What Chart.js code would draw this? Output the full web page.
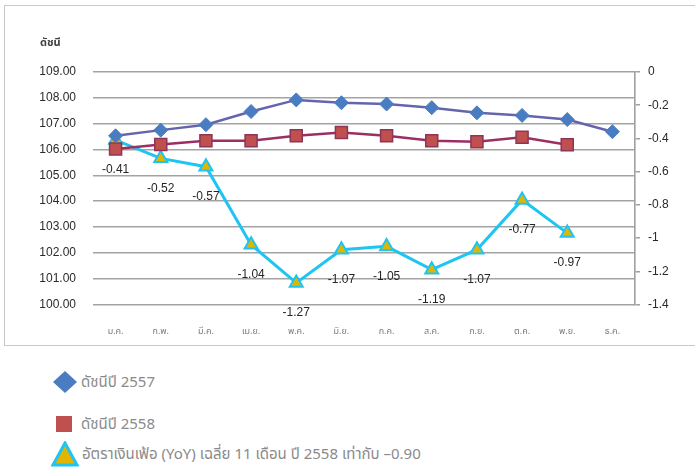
<!DOCTYPE html>
<html>
<head>
<meta charset="utf-8">
<script src="https://cdn.jsdelivr.net/npm/chart.js@4/dist/chart.umd.min.js"></script>
<style>
  html, body { margin: 0; padding: 0; background: #ffffff; }
  body { width: 695px; height: 467px; position: relative; overflow: hidden; }
  #frame { position: absolute; left: 4px; top: 5px; width: 692px; height: 341px; border: 1px solid #c9c9c9; box-sizing: border-box; }
  #wrap { position: absolute; left: 0; top: 0; width: 695px; height: 350px; }
  #legend { position: absolute; left: 51px; top: 366px; font-family: 'Noto Sans Thai', 'Noto Sans', 'DejaVu Sans', sans-serif; font-size: 15px; color: #8a8a8a; }
  #legend .item { position: absolute; left: 0; white-space: nowrap; height: 28px; display: flex; align-items: center; }
  #legend svg { display: block; margin-right: 3px; }
</style>
</head>
<body>
<div id="frame"></div>
<div id="wrap"><canvas id="chart" width="695" height="350"></canvas></div>
<div id="legend"></div>
<script>
// Months (Thai abbreviations)
const months = ['ม.ค.', 'ก.พ.', 'มี.ค.', 'เม.ย.', 'พ.ค.', 'มิ.ย.', 'ก.ค.', 'ส.ค.', 'ก.ย.', 'ต.ค.', 'พ.ย.', 'ธ.ค.'];

// Consumer price index, 2557 and 2558
const index2557 = [106.53, 106.75, 106.96, 107.47, 107.92, 107.81, 107.76, 107.62, 107.42, 107.32, 107.16, 106.69];
const index2558 = [106.02, 106.19, 106.34, 106.34, 106.53, 106.66, 106.53, 106.34, 106.30, 106.47, 106.18];

// Headline inflation (YoY), 2558
const inflation2558 = [-0.41, -0.52, -0.57, -1.04, -1.27, -1.07, -1.05, -1.19, -1.07, -0.77, -0.97];

const axisTitle = 'ดัชนี';
const legendNames = ['ดัชนีปี 2557', 'ดัชนีปี 2558', 'อัตราเงินเฟ้อ (YoY) เฉลี่ย 11 เดือน ปี 2558 เท่ากับ –0.90'];

const numFont = "'Liberation Sans Narrow', 'Liberation Sans', sans-serif";

// Value labels under the inflation points + the small axis caption
const labelPlugin = {
  id: 'valueLabels',
  afterDatasetsDraw(chart) {
    const ctx = chart.ctx;
    ctx.save();
    ctx.font = '12px ' + numFont;
    ctx.fillStyle = '#262626';
    ctx.textAlign = 'center';
    ctx.textBaseline = 'middle';
    chart.getDatasetMeta(2).data.forEach((pt, i) => {
      ctx.fillText(inflation2558[i].toFixed(2), pt.x, pt.y + 30);
    });
    ctx.font = 'bold 11px ' + "'Noto Sans Thai', 'Noto Sans', sans-serif";
    ctx.fillStyle = '#404040';
    ctx.textAlign = 'left';
    ctx.fillText(axisTitle, 40, 44);
    ctx.restore();
  }
};

const chart = new Chart(document.getElementById('chart'), {
  type: 'line',
  data: {
    labels: months,
    datasets: [
      {
        label: legendNames[0],
        data: index2557,
        yAxisID: 'y',
        borderColor: '#6565ad',
        borderWidth: 2.5,
        pointStyle: 'rectRot',
        pointRadius: 7,
        pointBackgroundColor: '#4a7cc2',
        pointBorderColor: '#4a7cc2',
        pointBorderWidth: 1,
        tension: 0
      },
      {
        label: legendNames[1],
        data: index2558,
        yAxisID: 'y',
        borderColor: '#9b2f62',
        borderWidth: 2.5,
        pointStyle: 'rect',
        pointRadius: 8.5,
        pointBackgroundColor: '#c0504d',
        pointBorderColor: '#8e3459',
        pointBorderWidth: 1.5,
        tension: 0
      },
      {
        label: legendNames[2],
        data: inflation2558,
        yAxisID: 'y2',
        borderColor: '#1fc5f2',
        borderWidth: 3,
        pointStyle: 'triangle',
        pointRadius: 7.5,
        pointBackgroundColor: '#e3b400',
        pointBorderColor: '#1fc5f2',
        pointBorderWidth: 2,
        tension: 0
      }
    ]
  },
  options: {
    responsive: false,
    animation: false,
    events: [],
    layout: { padding: { top: 72, left: 0, right: 0, bottom: 0 } },
    plugins: {
      legend: { display: false },
      tooltip: { enabled: false }
    },
    scales: {
      x: {
        type: 'category',
        offset: true,
        grid: { display: false },
        border: { display: false },
        ticks: {
          color: '#7a7a7a',
          font: { size: 9, family: "'Noto Sans Thai', 'Noto Sans', sans-serif" },
          padding: 14,
          maxRotation: 0,
          autoSkip: false
        },
        afterFit(scale) { scale.height = 45.5; }
      },
      y: {
        position: 'left',
        min: 100,
        max: 109,
        ticks: {
          stepSize: 1,
          color: '#2a2a2a',
          font: { size: 12, family: numFont },
          padding: 17,
          callback: v => Number(v).toFixed(2)
        },
        grid: { color: '#a3a3a3', lineWidth: 1.6, drawTicks: false },
        border: { display: false },
        afterFit(scale) { scale.width = 93; }
      },
      y2: {
        position: 'right',
        min: -1.4,
        max: 0,
        ticks: {
          stepSize: 0.2,
          color: '#2a2a2a',
          font: { size: 12, family: numFont },
          padding: 8,
          callback: v => String(Math.round(v * 10) / 10)
        },
        grid: { drawOnChartArea: false, drawTicks: true, tickLength: 5, color: '#a0a0a0', lineWidth: 1.5 },
        border: { display: true, color: '#a0a0a0', width: 1.6 },
        afterFit(scale) { scale.width = 60; }
      }
    }
  },
  plugins: [labelPlugin]
});

// Legend built from the chart's datasets
(function buildLegend() {
  const box = document.getElementById('legend');
  const tops = [2, 44, 74];
  chart.data.datasets.forEach((ds, i) => {
    const item = document.createElement('div');
    item.className = 'item';
    item.style.top = tops[i] + 'px';
    let svg;
    if (ds.pointStyle === 'rectRot') {
      svg = `<svg width="27" height="24"><polygon points="14,1 26,12 14,23 2,12" fill="${ds.pointBackgroundColor}"/></svg>`;
    } else if (ds.pointStyle === 'rect') {
      svg = `<svg width="27" height="24"><rect x="5" y="4" width="16" height="16" fill="${ds.pointBackgroundColor}"/></svg>`;
    } else {
      svg = `<svg width="28" height="26"><polygon points="14,2 26,24 2,24" fill="${ds.pointBackgroundColor}" stroke="${ds.pointBorderColor}" stroke-width="3" stroke-linejoin="miter"/></svg>`;
    }
    item.innerHTML = svg + `<span>${ds.label}</span>`;
    box.appendChild(item);
  });
})();
</script>
</body>
</html>
